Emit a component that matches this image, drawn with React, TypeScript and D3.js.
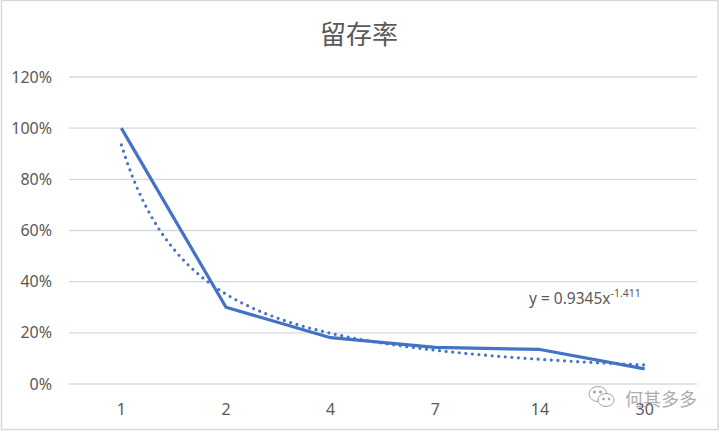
import React from "react";
import * as d3 from "d3";

const categories = ["1", "2", "4", "7", "14", "30"];
const retention = [1.0, 0.30, 0.181, 0.143, 0.135, 0.059];
const yTicks = [0, 0.2, 0.4, 0.6, 0.8, 1.0, 1.2];
const trendA = 0.9345;
const trendB = -1.411;
const title = "留存率";
const watermark = "何其多多";

const W = 720;
const H = 432;
const plot = { left: 69, right: 697, top: 77, bottom: 384 };

export default function App() {
  const x = d3
    .scaleBand<string>()
    .domain(categories)
    .range([plot.left, plot.right]);
  const cx = (c: string) => (x(c) ?? 0) + x.bandwidth() / 2;
  const y = d3.scaleLinear().domain([0, 1.2]).range([plot.bottom, plot.top]);

  const line = d3
    .line<number>()
    .x((_, i) => cx(categories[i]))
    .y((d) => y(d));

  // power trendline over category index 1..n, from the equation shown on the chart
  const idx = d3.range(1, categories.length + 0.0001, 0.05);
  const xi = d3
    .scaleLinear()
    .domain([1, categories.length])
    .range([cx(categories[0]), cx(categories[categories.length - 1])]);
  const trend = d3
    .line<number>()
    .x((t) => xi(t))
    .y((t) => y(trendA * Math.pow(t, trendB)));

  const font = "'Noto Sans', 'Noto Sans CJK SC', sans-serif";
  const textColor = "#595959";

  return (
    <svg
      width={W}
      height={H}
      style={{ position: "absolute", left: 0, top: 0, background: "#fff" }}
    >
      <rect x={1.5} y={0.5} width={W - 3.5} height={H - 3} fill="#fff" stroke="#d9d9d9" strokeWidth={1.5} />
      <text
        x={359}
        y={44}
        textAnchor="middle"
        fontSize={26}
        fill={textColor}
        fontFamily="'Noto Sans CJK SC', sans-serif"
      >
        {title}
      </text>
      {yTicks.map((t) => (
        <g key={t}>
          <line x1={plot.left} x2={plot.right} y1={y(t)} y2={y(t)} stroke="#d9d9d9" strokeWidth={1.3} />
          <text
            x={52}
            y={y(t)}
            dy="0.35em"
            textAnchor="end"
            fontSize={16}
            fill={textColor}
            fontFamily={font}
          >
            {d3.format(".0%")(t)}
          </text>
        </g>
      ))}
      {categories.map((c) => (
        <text
          key={c}
          x={cx(c)}
          y={409}
          dy="0.35em"
          textAnchor="middle"
          fontSize={16}
          fill={textColor}
          fontFamily={font}
        >
          {c}
        </text>
      ))}
      <path d={line(retention) ?? ""} fill="none" stroke="#4472C4" strokeWidth={3.2} strokeLinejoin="round" />
      <path
        d={trend(idx) ?? ""}
        fill="none"
        stroke="#4472C4"
        strokeWidth={3.2}
        strokeLinecap="round"
        strokeDasharray="0 6.6"
      />
      <text x={529} y={304} fontSize={15.5} fill={textColor} fontFamily={font}>
        {`y = ${trendA}x`}
        <tspan dy={-7} fontSize={10.5}>{`${trendB}`}</tspan>
      </text>
      <g opacity={0.8}>
        <g transform="translate(600,396)" fill="none" stroke="#8c8c8c" strokeWidth={1}>
          <ellipse cx={-2} cy={-2} rx={9} ry={7.5} fill="#fff" />
          <ellipse cx={6} cy={4} rx={8} ry={6.5} fill="#fff" />
          <circle cx={-5.5} cy={-4} r={1.1} fill="#8c8c8c" />
          <circle cx={0.5} cy={-4} r={1.1} fill="#8c8c8c" />
          <circle cx={3.5} cy={3} r={0.9} fill="#8c8c8c" />
          <circle cx={9} cy={3} r={0.9} fill="#8c8c8c" />
        </g>
        <text
          x={625}
          y={406}
          fontSize={18}
          fill="#9a9a9a"
          fontFamily="'Noto Sans CJK SC', sans-serif"
        >
          {watermark}
        </text>
      </g>
    </svg>
  );
}
